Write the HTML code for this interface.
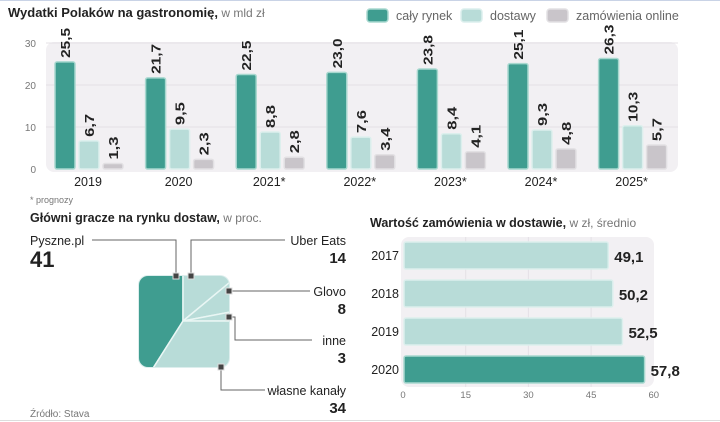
<!DOCTYPE html>
<html><head><meta charset="utf-8">
<style>
html,body{margin:0;padding:0;background:#fff;}
svg{display:block;font-family:"Liberation Sans",sans-serif;}
.b{font-weight:bold}
</style></head>
<body>
<svg id="c" width="720" height="422" viewBox="0 0 720 422">
<line x1="0" y1="0.5" x2="720" y2="0.5" stroke="#c9d3e6"/>
<line x1="0" y1="420.5" x2="720" y2="420.5" stroke="#ddd"/>
<text x="8" y="17" font-size="13" fill="#222"><tspan class="b">Wydatki Polaków na gastronomię,</tspan><tspan fill="#777" font-size="12"> w mld zł</tspan></text>
<g id="legend"></g>
<g id="top"></g>
<text x="30" y="203" font-size="9" fill="#777">* prognozy</text>
<text x="30" y="222" font-size="12.5" fill="#222"><tspan class="b">Główni gracze na rynku dostaw,</tspan><tspan fill="#777" font-size="12"> w proc.</tspan></text>
<g id="pie"></g>
<text x="30" y="417" font-size="10" fill="#777">Źródło: Stava</text>
<text x="370" y="227" font-size="12.5" fill="#222"><tspan class="b">Wartość zamówienia w dostawie,</tspan><tspan fill="#777" font-size="12"> w zł, średnio</tspan></text>
<g id="hbar"></g>
</svg>
<script>
const years = ["2019","2020","2021*","2022*","2023*","2024*","2025*"];
const market = [25.5,21.7,22.5,23.0,23.8,25.1,26.3];
const delivery = [6.7,9.5,8.8,7.6,8.4,9.3,10.3];
const online = [1.3,2.3,2.8,3.4,4.1,4.8,5.7];
const yTicks = [0,10,20,30];
const seriesNames = ["cały rynek","dostawy","zamówienia online"];
const shareNames = ["Pyszne.pl","Uber Eats","Glovo","inne","własne kanały"];
const shares = [41,14,8,3,34];
const hYears = ["2017","2018","2019","2020"];
const hValues = [49.1,50.2,52.5,57.8];
const hTicks = [0,15,30,45,60];

const NS="http://www.w3.org/2000/svg";
const C=["#3f9d90","#b8dcd8","#c9c5ca"];
const S=["#a8d8cf","#dcefed","#e2e0e3"];
function mk(p,tag,at,txt){const e=document.createElementNS(NS,tag);for(const k in at)e.setAttribute(k,at[k]);if(txt!==undefined)e.textContent=txt;p.appendChild(e);return e;}
const fmt=v=>v.toFixed(1).replace('.',',');

// legend
const lg=document.getElementById('legend');
const lx=[367,461,547];
seriesNames.forEach((n,i)=>{
  const r=mk(lg,'rect',{x:lx[i],y:9,width:21,height:13,rx:3,fill:C[i],stroke:S[i],'stroke-width':1.5});
  
  
  const t=mk(lg,'text',{x:lx[i]+29,y:20,'font-size':12.5,fill:'#666'},n);
  
  
});

// top chart
const tg=document.getElementById('top');
const y0=169, yk=4.2;
const ys=v=>y0-v*yk;
const gx=i=>88+i*90.6;
const bg=mk(tg,'rect',{x:46,y:42,width:632,height:130,rx:8,fill:'#f2f0f3'});


yTicks.forEach(t=>{
  if(t>0){const l=mk(tg,'line',{x1:46,x2:678,y1:ys(t),y2:ys(t),stroke:'#e4e1e6'});
  
  }
  const tx=mk(tg,'text',{x:36,y:ys(t)+4,'font-size':10,fill:'#777','text-anchor':'end'},t);
  
  
});
[market,delivery,online].forEach((arr,s)=>{
  arr.forEach((v,i)=>{
    const x=gx(i)-33+s*24;
    const r=mk(tg,'rect',{x:x,y:ys(v),width:20,height:v*yk,rx:2,fill:C[s],stroke:S[s],'stroke-width':1.5});
    
    
    const ty=ys(v)-4, tx=x+10+5;
    const t=mk(tg,'text',{x:tx,y:ty,'font-size':13,'font-weight':'bold',fill:'#222',transform:`rotate(-90 ${tx} ${ty})`,'textLength':fmt(v).length>3?30:23,lengthAdjust:'spacingAndGlyphs'},fmt(v));
    
    
  });
});
years.forEach((y,i)=>{
  const t=mk(tg,'text',{x:gx(i),y:186,'font-size':12.5,fill:'#222','text-anchor':'middle'},y);
  
  
});

// pie in rounded square
const pg=document.getElementById('pie');
const defs=mk(pg,'defs',{});
const cp=mk(defs,'clipPath',{id:'sq'});
mk(cp,'rect',{x:139,y:276,width:90,height:91,rx:9});
const frame=mk(pg,'rect',{x:138,y:275,width:92,height:93,rx:10,fill:'#dceeed'});


const cx=183,cy=321,R=120;
const total=shares.reduce((a,b)=>a+b,0);
const pt=a=>[cx+R*Math.sin(a),cy-R*Math.cos(a)];
// order: Pyszne counterclockwise from top; others clockwise from top
let ang=[];
let a=0;
// Pyszne: from -41% to 0
const pyS=-shares[0]/total*2*Math.PI;
ang.push([pyS,0]);
for(let i=1;i<shares.length;i++){const b=a+shares[i]/total*2*Math.PI;ang.push([a,b]);a=b;}
const pfill=[C[0],C[1],C[1],C[1],C[1]];
const sg=mk(pg,'g',{'clip-path':'url(#sq)'});
ang.forEach(([s,e],i)=>{
  const pts=[[cx,cy]];const n=24;
  for(let k=0;k<=n;k++)pts.push(pt(s+(e-s)*k/n));
  const p=mk(sg,'polygon',{points:pts.map(q=>q.join(',')).join(' '),fill:pfill[i],stroke:'#e9f6f4','stroke-width':1.5});
  
  
});
// leaders
const lines=[
 "M176,276 V240 H92","M191,276 V240 H285","M229,291 H310","M229,317 H235 V340 H312","M221,367 V390 H265"];
const marks=[[176,276],[191,276],[229,291],[229,317],[221,367]];
lines.forEach((d,i)=>{
  const l=mk(pg,'path',{d:d,fill:'none',stroke:'#666','stroke-width':1});
  
  
  const m=mk(pg,'rect',{x:marks[i][0]-3,y:marks[i][1]-3,width:6,height:6,fill:'#444',stroke:'#ddd','stroke-width':1});
  
  
});
const labPos=[[30,245,'start'],[346,245,'end'],[346,296,'end'],[346,345,'end'],[346,395,'end']];
shareNames.forEach((n,i)=>{
  const [x,y,an]=labPos[i];
  const t=mk(pg,'text',{x:x,y:y,'font-size':12.5,fill:'#222','text-anchor':an},n);
  
  
  const v=mk(pg,'text',{x:x,y:y+(i==0?22:18),'font-size':i==0?22:15,'font-weight':'bold',fill:'#222','text-anchor':an},shares[i]);
  
  
});

// horizontal bars
const hg=document.getElementById('hbar');
const hx=v=>403+v*4.18;
const hb=mk(hg,'rect',{x:401,y:237,width:253,height:150,rx:8,fill:'#f2f0f3'});


hTicks.forEach(t=>{
  if(t>0&&t<60){const l=mk(hg,'line',{x1:hx(t),x2:hx(t),y1:237,y2:387,stroke:'#e4e1e6'});
  
  }
  const tx=mk(hg,'text',{x:hx(t),y:398,'font-size':9.5,fill:'#777','text-anchor':'middle'},t);
  
  
});
hValues.forEach((v,i)=>{
  const y=242+i*38;
  const last=i==hValues.length-1;
  const r=mk(hg,'rect',{x:404,y:y,width:hx(v)-404,height:27,rx:2,fill:last?C[0]:C[1],stroke:last?S[0]:S[1],'stroke-width':1.5});
  
  
  const t=mk(hg,'text',{x:hx(v)+6,y:y+20,'font-size':15,'font-weight':'bold',fill:'#222'},fmt(v));
  
  
  const yl=mk(hg,'text',{x:399,y:y+18,'font-size':12.5,fill:'#222','text-anchor':'end'},hYears[i]);
  
  
});
</script>
</body></html>
